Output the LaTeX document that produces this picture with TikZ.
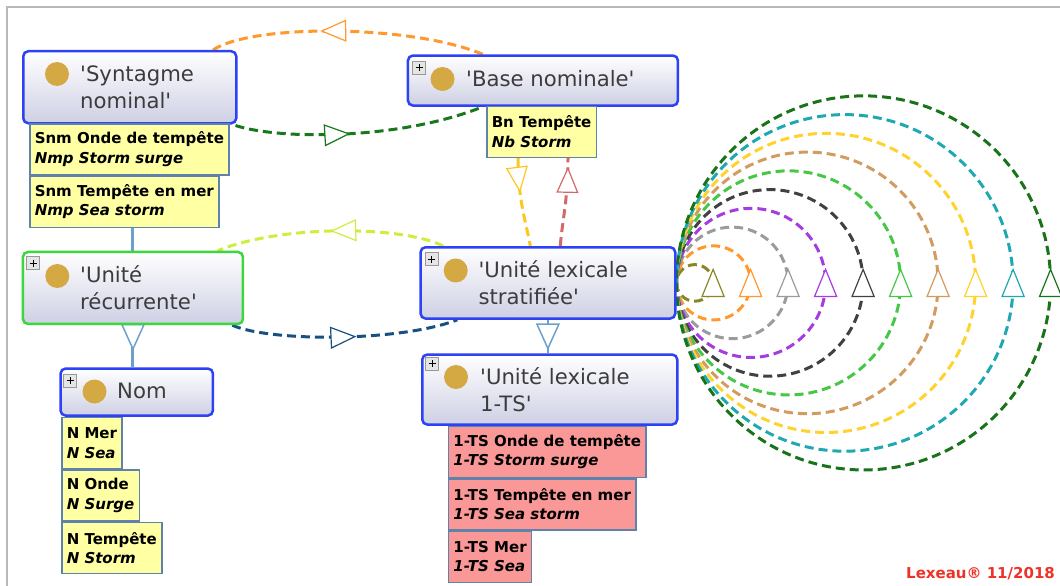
\documentclass[tikz,border=0pt]{standalone}
\usepackage{fontspec}
\setmainfont{DejaVu Sans}
\usetikzlibrary{arrows.meta,decorations.markings,backgrounds,calc,positioning}

\definecolor{clsblue}{RGB}{45,65,245}
\definecolor{clsgreen}{RGB}{60,215,60}
\definecolor{clsbot}{RGB}{206,208,228}
\definecolor{clstext}{RGB}{60,60,60}
\definecolor{dotgold}{RGB}{212,168,66}
\definecolor{yelfill}{RGB}{255,255,164}
\definecolor{tsfill}{RGB}{250,152,152}
\definecolor{boxline}{RGB}{95,130,172}
\definecolor{isablue}{RGB}{110,160,205}
\definecolor{framegray}{RGB}{185,185,185}
\definecolor{lexred}{RGB}{238,50,40}
% relation colours
\definecolor{relorange}{RGB}{255,152,45}
\definecolor{relgreen}{RGB}{25,120,25}
\definecolor{relchart}{RGB}{205,238,60}
\definecolor{relnavy}{RGB}{25,80,130}
\definecolor{relgold}{RGB}{250,200,30}
\definecolor{relred}{RGB}{212,105,105}
% self loops, inner to outer
\definecolor{lp0}{RGB}{135,135,40}
\definecolor{lp1}{RGB}{255,152,45}
\definecolor{lp2}{RGB}{155,155,155}
\definecolor{lp3}{RGB}{165,60,225}
\definecolor{lp4}{RGB}{65,65,65}
\definecolor{lp5}{RGB}{70,200,70}
\definecolor{lp6}{RGB}{210,155,95}
\definecolor{lp7}{RGB}{255,210,45}
\definecolor{lp8}{RGB}{30,168,178}
\definecolor{lp9}{RGB}{25,115,25}

\newcommand\clsfont{\fontsize{21.2}{27}\selectfont}
\newcommand\boxfont{\fontsize{15}{19.5}\selectfont\bfseries}
\newcommand\sq{\textquotesingle}

\tikzset{
  cls/.style={draw=clsblue, line width=2.5, rounded corners=5, top color=white,
    bottom color=clsbot, anchor=north west, inner sep=0},
  clstxt/.style={anchor=west, align=left, text=clstext, font=\clsfont, inner sep=0},
  dot/.style={circle, fill=dotgold, minimum size=24, inner sep=0},
  plusbox/.style={draw=gray!80, fill=gray!20, line width=0.8, minimum size=13, inner sep=0,
    path picture={
      \draw[black, line width=1, shorten <=3, shorten >=3]
        (path picture bounding box.west) -- (path picture bounding box.east);
      \draw[black, line width=1, shorten <=3, shorten >=3]
        (path picture bounding box.north) -- (path picture bounding box.south);}},
  entry/.style={draw=boxline, line width=1.5, anchor=north west, align=left,
    font=\boxfont, inner xsep=5, inner ysep=0, minimum height=51},
  lexbox/.style={entry, fill=yelfill},
  tsbox/.style={entry, fill=tsfill},
  rel/.style={line width=3, dash pattern=on 9pt off 5pt},
  midtip/.style={postaction={decorate}, decoration={markings, mark=at position #1 with
    {\arrow{Triangle[length=26pt, width=22pt, fill=white, line width=1.2pt]}}}},
  looptip/.style={fill=white, line width=1.2, solid},
  isa/.style={draw=isablue, line width=3},
  isatip/.style={postaction={decorate}, decoration={markings, mark=at position #1 with
    {\arrow{Triangle[length=27pt, width=24pt, fill=white, line width=1.5pt]}}}},
}

\begin{document}
\begin{tikzpicture}[x=1pt, y=-1pt]
  \useasboundingbox (0,0) rectangle (1060,586);
  % frame
  \draw[framegray, line width=2] (7,586) -- (7,7) -- (1060,7);

  % 'Syntagme nominal'
  \node[cls, minimum width=213, minimum height=72] (sn) at (22,50) {};
  \node[dot] (sn-dot) at (57,74) {};
  \node[clstxt] (sn-txt) at (80,87) {\sq Syntagme\\nominal\sq};
  \node[lexbox] (snm1) at (29,123) {Snm Onde de tempête\\\textit{Nmp Storm surge}};
  \node[lexbox] (snm2) at (snm1.south west) {Snm Tempête en mer\\\textit{Nmp Sea storm}};

  % 'Base nominale'
  \node[cls, minimum width=270, minimum height=50] (bn) at (406.7,54.3) {};
  \node[plusbox] (bn-plus) at (419.3,67.5) {};
  \node[dot] (bn-dot) at (442.5,79) {};
  \node[clstxt] (bn-txt) at (466,79) {\sq Base nominale\sq};
  \node[lexbox] (bnb) at (486,105.5) {Bn Tempête\\\textit{Nb Storm}};

  % 'Unité récurrente'
  \node[cls, draw=clsgreen, minimum width=220, minimum height=72] (ur) at (21.7,250.7) {};
  \node[plusbox] (ur-plus) at (33,263.3) {};
  \node[dot] (ur-dot) at (57.3,276) {};
  \node[clstxt] (ur-txt) at (80,288) {\sq Unité\\récurrente\sq};

  % Nom
  \node[cls, minimum width=152.4, minimum height=47] (nom) at (59.3,367.3) {};
  \node[plusbox] (nom-plus) at (70,380.5) {};
  \node[dot] (nom-dot) at (94.5,391.5) {};
  \node[clstxt] (nom-txt) at (117,391) {Nom};
  \node[lexbox] (n1) at (61,416.7) {N Mer\\\textit{N Sea}};
  \node[lexbox] (n2) at (n1.south west) {N Onde\\\textit{N Surge}};
  \node[lexbox] (n3) at (n2.south west) {N Tempête\\\textit{N Storm}};

  % 'Unité lexicale stratifiée'
  \node[cls, minimum width=254.7, minimum height=71.3] (uls) at (419.3,246) {};
  \node[plusbox] (uls-plus) at (431.7,259.3) {};
  \node[dot] (uls-dot) at (455.7,270.5) {};
  \node[clstxt] (uls-txt) at (478.3,283) {\sq Unité lexicale\\stratifiée\sq};

  % 'Unité lexicale 1-TS'
  \node[cls, minimum width=255, minimum height=70] (uts) at (421,353.3) {};
  \node[plusbox] (uts-plus) at (432.3,363.7) {};
  \node[dot] (uts-dot) at (456,377) {};
  \node[clstxt] (uts-txt) at (480,390) {\sq Unité lexicale\\1-TS\sq};
  \node[tsbox] (ts1) at (447.7,425.5) {1-TS Onde de tempête\\\textit{1-TS Storm surge}};
  \node[tsbox] (ts2) at (ts1.south west) {1-TS Tempête en mer\\\textit{1-TS Sea storm}};
  \node[tsbox] (ts3) at (ts2.south west) {1-TS Mer\\\textit{1-TS Sea}};

  \node[anchor=base west, text=lexred, font=\fontsize{15}{18}\selectfont\bfseries,
    inner sep=0] (lexeau) at (906,578) {Lexeau® 11/2018};

  \begin{pgfonlayer}{background}
    % hierarchy
    \draw[isa] (ur.north |- snm2.south) -- (ur.north);
    \draw[isa, isatip=0.61] (ur.south) -- (ur.south |- nom.north);
    \draw[isa, line width=1.5, isatip=0.91] (uls.south) -- (uls.south |- uts.north);

    % relations
    \draw[rel, draw=relorange, midtip=0.6] ($(bn.north west)+(76,0)$)
      .. controls (410,24) and (251,24) .. ($(sn.north west)+(191,0)$);
    \draw[rel, draw=relgreen, midtip=0.46] ($(sn.south east)+(-2,1)$)
      .. controls (280,140) and (400,140) .. ($(bn.south west)+(76,0)$);
    \draw[rel, draw=relchart, midtip=0.5] ($(uls.north west)+(24,0)$)
      .. controls (400,225) and (280,225) .. ($(ur.north west)+(196,0)$);
    \draw[rel, draw=relnavy, midtip=0.55] ($(ur.south east)+(-12,0)$)
      .. controls (270,342) and (400,342) .. ($(uls.south west)+(38,0)$);
    \draw[rel, draw=relgold, midtip=0.39] ($(bnb.south west)+(32,0)$)
      .. controls (518,200) and (526,222) .. ($(uls.north west)+(111,0)$);
    \draw[rel, draw=relred, midtip=0.9] ($(uls.north west)+(141,0)$)
      .. controls (562,222) and (568,200) .. ($(bnb.south west)+(82,0)$);

    % self loops on 'Unité lexicale stratifiée'
    \foreach \i in {0,...,9}{
      \pgfmathsetmacro\rad{18.3+18.75*\i}
      \draw[rel, draw=lp\i] (uls.east)
        arc[start angle=180, end angle=-180, radius=\rad];
    }
  \end{pgfonlayer}
  % loop arrowheads, pointing up at the far side of each loop
  \foreach \i in {0,...,9}{
    \pgfmathsetmacro\dia{2*(18.3+18.75*\i)}
    \draw[looptip, draw=lp\i] ($(uls.east)+(\dia,-13.5)$) -- ++(11,27) -- ++(-22,0) -- cycle;
  }
\end{tikzpicture}
\end{document}
